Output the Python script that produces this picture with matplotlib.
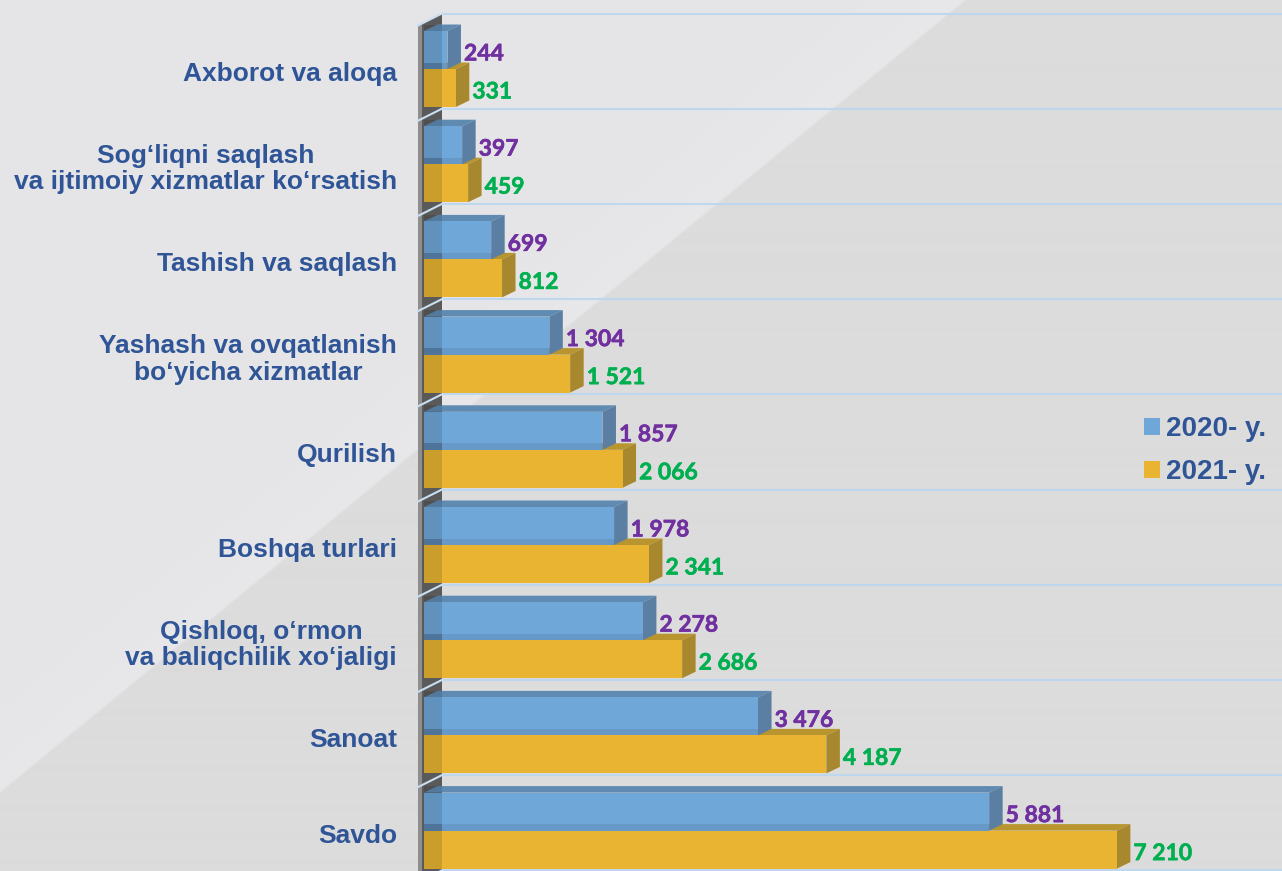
import numpy as np
import matplotlib
matplotlib.use("Agg")
import matplotlib.pyplot as plt
import matplotlib.patheffects as pe
from matplotlib.patches import Polygon, Patch
from matplotlib.font_manager import FontProperties

# ---- data -------------------------------------------------------------
categories = [
    "Axborot va aloqa",
    "Sog‘liqni saqlash\nva ijtimoiy xizmatlar ko‘rsatish",
    "Tashish va saqlash",
    "Yashash va ovqatlanish\nbo‘yicha xizmatlar",
    "Qurilish",
    "Boshqa turlari",
    "Qishloq, o‘rmon\nva baliqchilik xo‘jaligi",
    "Sanoat",
    "Savdo",
]
values_2020 = [244, 397, 699, 1304, 1857, 1978, 2278, 3476, 5881]
values_2021 = [331, 459, 812, 1521, 2066, 2341, 2686, 4187, 7210]
series_labels = ["2020- y.", "2021- y."]

# ---- styling ----------------------------------------------------------
W, H = 1282, 871
X0 = 424            # left edge of the plotting area (px)
Y_TOP = 13.5        # top gridline (px)
BAND = 95.2         # height of one category band (px)
PX_PER_UNIT = 0.0961

BLUE_FRONT, BLUE_TOP, BLUE_SIDE = "#6FA7D9", "#5F8AB2", "#5A7FA2"
YEL_FRONT, YEL_TOP, YEL_SIDE = "#E8B431", "#B8952F", "#A8882E"
GRID = "#BDD7EE"
CAT_COLOR = "#2F5597"
LBL_2020, LBL_2021 = "#7030A0", "#00B050"

fig = plt.figure(figsize=(W / 100, H / 100), dpi=100)

# ---- background: grey with a lighter diagonal sheen ------------------
bg = fig.add_axes([0, 0, 1, 1], zorder=-10)
yy, xx = np.mgrid[0:H, 0:W].astype(float)
edge = 967 - 1.22 * yy
d = edge - xx
base = np.array([220, 220, 220]) / 255.0
light = np.array([229, 229, 231]) / 255.0
t = np.clip(d / 4.0, 0, 1)[..., None]
sheen = (np.exp(-np.clip(d, 0, None) / 90.0) * 0.012)[..., None] * (d[..., None] > 0)
img = base * (1 - t) + light * t + sheen
bg.imshow(np.clip(img, 0, 1), extent=[0, W, H, 0], aspect="auto", interpolation="bilinear")
bg.axis("off")

# ---- main axes --------------------------------------------------------
n = len(categories)
y_bot_px = Y_TOP + n * BAND
ax = fig.add_axes([X0 / W, (H - y_bot_px) / H, (W - X0) / W, n * BAND / H])
xmax = (W - X0) / PX_PER_UNIT
ax.set_xlim(0, xmax)
ax.set_ylim(n - 0.5, -0.5)
ax.axis("off")
ax.patch.set_alpha(0)

ux = xmax / (W - X0)     # value units per pixel
uy = 1.0 / BAND          # band units per pixel
DX, DY = 13.5 * ux, -6.5 * uy   # bar depth
WALL_F, WALL_B = -6 * ux, 18 * ux

# side wall of the 3-D frame
wall_top_front = -0.5 + 12 * uy
ax.add_patch(Polygon([(WALL_F, wall_top_front), (WALL_B, -0.5), (WALL_B, n + 0.5),
                      (WALL_F, n + 0.5)], closed=True, facecolor="#5A5A5A",
                     edgecolor="none", zorder=1, clip_on=False))
ax.add_patch(Polygon([(WALL_F, wall_top_front), (WALL_F + 4 * ux, wall_top_front - 2 * uy),
                      (WALL_F + 4 * ux, n + 0.5), (WALL_F, n + 0.5)], closed=True,
                     facecolor="#8E8E8E", edgecolor="none", zorder=1, clip_on=False))

# gridlines (back plane) with their slanted run across the wall
for k in range(n + 1):
    yb = k - 0.5
    ax.plot([WALL_B, xmax], [yb, yb], color=GRID, lw=1.5, zorder=2,
            solid_capstyle="butt", clip_on=False)
    ax.plot([WALL_F, WALL_B], [yb + 12 * uy, yb], color="#C9DEF1", lw=1.5,
            zorder=2, clip_on=False)

h = 38 * uy
y_blue = np.arange(n) - 0.5 + 17.5 * uy
y_yel = np.arange(n) - 0.5 + 55.5 * uy


def box_faces(v, yt, colors, z):
    yb_ = yt + h
    top = Polygon([(0, yt), (v, yt), (v + DX, yt + DY), (DX, yt + DY)], closed=True,
                  facecolor=colors[0], edgecolor="none", zorder=z)
    side = Polygon([(v, yt), (v + DX, yt + DY), (v + DX, yb_ + DY), (v, yb_)], closed=True,
                   facecolor=colors[1], edgecolor="none", zorder=z)
    ax.add_patch(top)
    ax.add_patch(side)


for i in range(n):
    box_faces(values_2021[i], y_yel[i], (YEL_TOP, YEL_SIDE), 3)
    box_faces(values_2020[i], y_blue[i], (BLUE_TOP, BLUE_SIDE), 4)

ax.barh(y_yel, values_2021, height=h, align="edge", color=YEL_FRONT, zorder=3.5)
ax.barh(y_blue, values_2020, height=h, align="edge", color=BLUE_FRONT, zorder=4.5)

for i in range(n):
    # soft shading where the lower box sits under the upper one
    yb_ = y_blue[i] + h
    ax.add_patch(Polygon([(0, yb_ + DY), (values_2020[i], yb_ + DY),
                          (values_2020[i], yb_), (0, yb_)], closed=True,
                         facecolor="#4F7396", alpha=0.25, edgecolor="none", zorder=4.6))
    # wall showing through the near end of the boxes
    for yt in (y_blue[i], y_yel[i]):
        ax.add_patch(Polygon([(0, yt + DY), (WALL_B, yt + DY), (WALL_B, yt + h),
                              (0, yt + h)], closed=True, facecolor="black", alpha=0.12,
                             edgecolor="none", zorder=4.7))


def fmt(v):
    return f"{v:,}".replace(",", " ")


lbl_font = dict(family="Lato", weight="bold", size=16.5)
for vals, ys, col in ((values_2020, y_blue, LBL_2020), (values_2021, y_yel, LBL_2021)):
    for i in range(n):
        ax.text(vals[i] + DX + 3 * ux, ys[i] + h / 2 + 4 * uy, fmt(vals[i]),
                color=col, ha="left", va="center", zorder=6,
                path_effects=[pe.withStroke(linewidth=0.4, foreground=col)], **lbl_font)

# category labels
for i, name in enumerate(categories):
    ax.text(-27 * ux, i + 0.135, name, ha="right", va="center", multialignment="center",
            color=CAT_COLOR, family="Liberation Sans", weight="bold", size=19,
            linespacing=1.12, clip_on=False)

# legend
handles = [Patch(facecolor=BLUE_FRONT, edgecolor="none"),
           Patch(facecolor=YEL_FRONT, edgecolor="none")]
fig.legend(handles, series_labels, loc="upper left",
           bbox_to_anchor=(1144 / W, 1 - 416 / H), frameon=False,
           prop=FontProperties(family="Liberation Sans", weight="bold", size=20),
           labelcolor=CAT_COLOR, handlelength=0.58, handleheight=0.58,
           handletextpad=0.22, labelspacing=0.62, borderpad=0, borderaxespad=0)

fig.savefig("out.png", dpi=100)
